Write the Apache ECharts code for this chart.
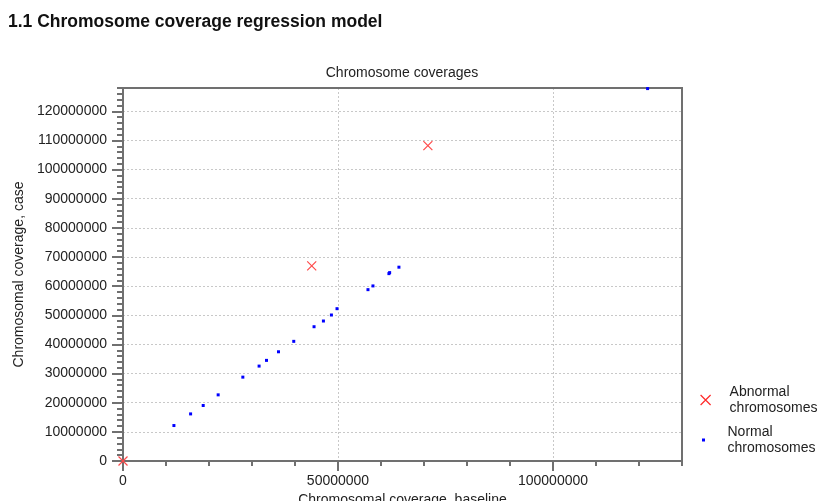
<!DOCTYPE html>
<html><head><meta charset="utf-8">
<script src="https://cdn.jsdelivr.net/npm/echarts@6/dist/echarts.min.js"></script>
<style>html,body{margin:0;padding:0;background:#fff}#c{width:819px;height:501px}</style>
</head><body><div id="c"></div>
<script>
// ---- data ----
const normalX = [11840000, 15720000, 18650000, 22130000, 27870000, 31650000, 33370000, 36160000, 39710000, 44430000, 46610000, 48470000, 49770000, 56970000, 58130000, 61840000, 62010000, 64170000, 122000000];
const normalY = [12170000, 16160000, 19050000, 22700000, 28780000, 32570000, 34530000, 37480000, 41060000, 46080000, 48040000, 50100000, 52270000, 58800000, 60080000, 64300000, 64650000, 66510000, 127800000];
const abnormalX = [0, 43890000, 70900000];
const abnormalY = [0, 66950000, 108200000];
const xTickValues = [0, 50000000, 100000000];
const yTickValues = [0, 10000000, 20000000, 30000000, 40000000, 50000000, 60000000, 70000000, 80000000, 90000000, 100000000, 110000000, 120000000];
const seriesNames = ['Abnormal\nchromosomes', 'Normal\nchromosomes'];
const headingText = '1.1 Chromosome coverage regression model';
const chartTitle = 'Chromosome coverages';
const xName = 'Chromosomal coverage, baseline';
const yName = 'Chromosomal coverage, case';

// ---- chart ----
const FONT = "'Liberation Sans', Arial, sans-serif";
const AXIS_COLOR = '#707070';
const TEXT_COLOR = '#222';
const GRID_LINE = {show: true, lineStyle: {color: '#c8c8c8', width: 1, type: [2, 2]}};
const X_ICON = 'path://M0,0L10,10M10,0L0,10';
const DOT_ICON = 'path://M0,0L1,0L1,1L0,1Z';

const chart = echarts.init(document.getElementById('c'), null, {renderer: 'canvas'});
const zip = (a, b) => a.map((v, i) => [v, b[i]]);
const numFmt = v => String(v);

const minorAxisCommon = {
  type: 'value', axisLine: {show: true, lineStyle: {color: AXIS_COLOR, width: 2}},
  axisLabel: {show: false}, splitLine: {show: false}
};

chart.setOption({
  animation: false,
  backgroundColor: '#fff',
  title: [
    {text: headingText, left: 8, top: 13, padding: 0,
     textStyle: {fontFamily: FONT, fontSize: 17.5, fontWeight: 'bold', color: '#111'}},
    {text: chartTitle, left: 402, textAlign: 'center', top: 66, padding: 0,
     textStyle: {fontFamily: FONT, fontSize: 14, fontWeight: 'normal', color: TEXT_COLOR}}
  ],
  grid: {left: 123, top: 88, right: 137, bottom: 40, show: true, z: 1,
         outerBoundsMode: 'none', containLabel: false,
         borderColor: AXIS_COLOR, borderWidth: 2, backgroundColor: 'transparent'},
  xAxis: [
    Object.assign({}, minorAxisCommon, {position: 'bottom', min: 0, max: 130000000, interval: 10000000,
      axisTick: {show: true, length: 5, lineStyle: {color: AXIS_COLOR, width: 2}}}),
    {type: 'value', position: 'bottom', min: 0, max: 130000000, interval: 50000000,
     axisLine: {show: true, lineStyle: {color: AXIS_COLOR, width: 2}},
     axisTick: {show: true, length: 10, customValues: xTickValues, lineStyle: {color: AXIS_COLOR, width: 2}},
     axisLabel: {show: true, customValues: xTickValues, formatter: numFmt, margin: 13,
                 fontFamily: FONT, fontSize: 14, color: TEXT_COLOR},
     splitLine: GRID_LINE,
     name: xName, nameLocation: 'middle', nameGap: 24,
     nameTextStyle: {fontFamily: FONT, fontSize: 14, color: TEXT_COLOR}}
  ],
  yAxis: [
    Object.assign({}, minorAxisCommon, {position: 'left', min: 0, max: 128000000, interval: 2000000,
      axisTick: {show: true, length: 6, lineStyle: {color: AXIS_COLOR, width: 2}}}),
    {type: 'value', position: 'left', min: 0, max: 128000000, interval: 10000000,
     axisLine: {show: true, lineStyle: {color: AXIS_COLOR, width: 2}},
     axisTick: {show: true, length: 11, customValues: yTickValues, lineStyle: {color: AXIS_COLOR, width: 2}},
     axisLabel: {show: true, customValues: yTickValues, formatter: numFmt, margin: 16,
                 fontFamily: FONT, fontSize: 14, color: TEXT_COLOR},
     splitLine: GRID_LINE,
     name: yName, nameLocation: 'middle', nameGap: 93,
     nameTextStyle: {fontFamily: FONT, fontSize: 14, color: TEXT_COLOR}}
  ],
  legend: [
    {data: [{name: seriesNames[0], icon: X_ICON}], orient: 'vertical', left: 700, top: 384, padding: 0,
     itemWidth: 38, itemHeight: 10, selectedMode: false,
     itemStyle: {color: 'transparent', borderColor: '#ff2a2a', borderWidth: 1.2},
     textStyle: {fontFamily: FONT, fontSize: 14, lineHeight: 16, color: TEXT_COLOR}},
    {data: [{name: seriesNames[1], icon: DOT_ICON}], orient: 'vertical', left: 702, top: 424, padding: 0,
     itemWidth: 38, itemHeight: 3, selectedMode: false,
     itemStyle: {color: '#0000ff', borderWidth: 0},
     textStyle: {fontFamily: FONT, fontSize: 14, lineHeight: 16, color: TEXT_COLOR}}
  ],
  series: [
    {name: seriesNames[0], type: 'scatter', xAxisIndex: 0, yAxisIndex: 0, z: 3,
     symbol: X_ICON, symbolSize: 9,
     itemStyle: {color: 'transparent', borderColor: '#ff4a4a', borderWidth: 1.2, opacity: 1},
     data: zip(abnormalX, abnormalY)},
    {name: seriesNames[1], type: 'scatter', xAxisIndex: 0, yAxisIndex: 0, z: 3,
     symbol: 'rect', symbolSize: 3,
     itemStyle: {color: '#0000ff', opacity: 1},
     data: zip(normalX, normalY)}
  ]
});
</script></body></html>
